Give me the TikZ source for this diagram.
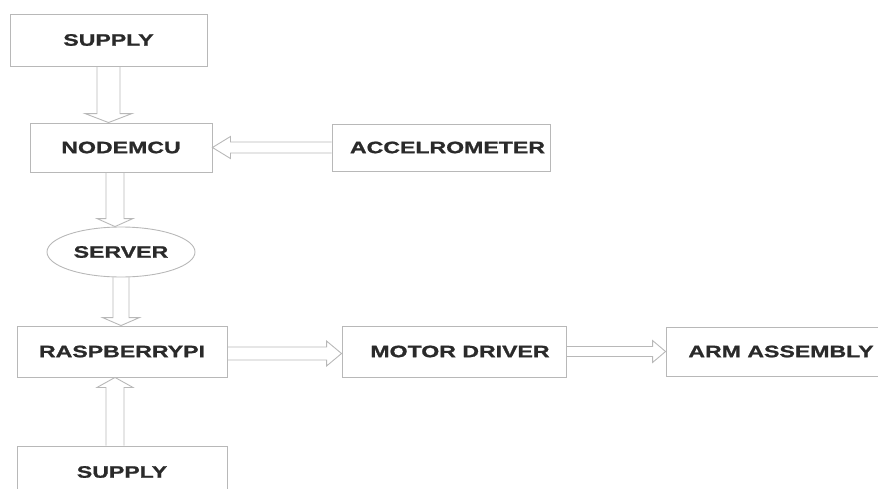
\documentclass[tikz,border=0pt]{standalone}
\usepackage{fontspec}
\newfontfamily\blockfont[FakeStretch=1.4,BoldFeatures={FakeBold=1.2}]{Liberation Sans}
\usetikzlibrary{calc,shapes.geometric}
\definecolor{edgegray}{HTML}{B8B8B8}
\definecolor{labelgray}{HTML}{2A2A2A}
% hollow block arrow: start, end, shaft half width, head half width, head length
\newcommand{\blockarrow}[5]{%
  \draw[hollow] let \p1=(#1), \p2=(#2),
    \n1={atan2(\y2-\y1,\x2-\x1)}, \n2={veclen(\x2-\x1,\y2-\y1)} in
    [shift={(\p1)}, rotate=\n1]
    (0pt,#3pt) -- ({\n2*1pt-#5pt},#3pt) -- ({\n2*1pt-#5pt},#4pt)
    -- ({\n2*1pt},0pt) -- ({\n2*1pt-#5pt},-#4pt) -- ({\n2*1pt-#5pt},-#3pt) -- (0pt,-#3pt);
}
\begin{document}
\begin{tikzpicture}[x=1pt,y=-1pt]
    %
    % `block' is used for the boxes, `cloud' for the server.
    % `hollow' is used for the outlined arrows.
    \tikzstyle{block} = [draw=edgegray,line width=0.9pt,inner sep=0pt,text=labelgray,
        font=\blockfont\bfseries\fontsize{16.5}{18}\selectfont]
    \tikzstyle{cloud} = [block,ellipse]
    \tikzstyle{hollow} = [draw=edgegray,line width=0.9pt,line join=miter]
    %
    \clip (0,0) rectangle (878,488);
    %
    % Left column
    \node[block,minimum width=197pt,minimum height=52pt] (supplya) at (108.5,40) {SUPPLY};
    \node[block,minimum width=182pt,minimum height=49pt] (nodemcu) at (121,147.5) {NODEMCU};
    \node[cloud,minimum width=148pt,minimum height=50pt] (server) at (121,252) {SERVER};
    \node[block,minimum width=210pt,minimum height=51pt] (raspi) at (122,351.5) {RASPBERRYPI};
    \node[block,minimum width=210pt,minimum height=52pt] (supplyb) at (122,472) {SUPPLY};
    %
    % Right side
    \node[block,minimum width=218pt,minimum height=47pt] (accel) at (441,147.5) {\hspace*{13pt}ACCELROMETER};
    \node[block,minimum width=224pt,minimum height=51pt] (motor) at (454,351.5) {\hspace*{12pt}MOTOR DRIVER};
    \node[block,minimum width=224pt,minimum height=49pt] (arm) at (778,351.5) {\hspace*{6pt}ARM ASSEMBLY};
    %
    % Arrows
    \coordinate (ns) at ([xshift=-6pt]nodemcu.south);
    \coordinate (ss) at ([xshift=-7pt]supplyb.north);
    \coordinate (rs) at ([yshift=-2pt]raspi.east);
    \blockarrow{supplya.south}{supplya.south |- nodemcu.north}{11.5}{23.5}{9}
    \blockarrow{ns}{ns |- server.north}{9}{18}{8}
    \blockarrow{server.south}{server.south |- raspi.north}{8}{18.5}{8}
    \blockarrow{ss}{ss |- raspi.south}{9}{18}{10}
    \blockarrow{accel.west}{accel.west -| nodemcu.east}{5.5}{11}{18}
    \blockarrow{rs}{rs -| motor.west}{6.5}{12.5}{15}
    \blockarrow{motor.east}{arm.west}{5}{11}{13}
\end{tikzpicture}
\end{document}
